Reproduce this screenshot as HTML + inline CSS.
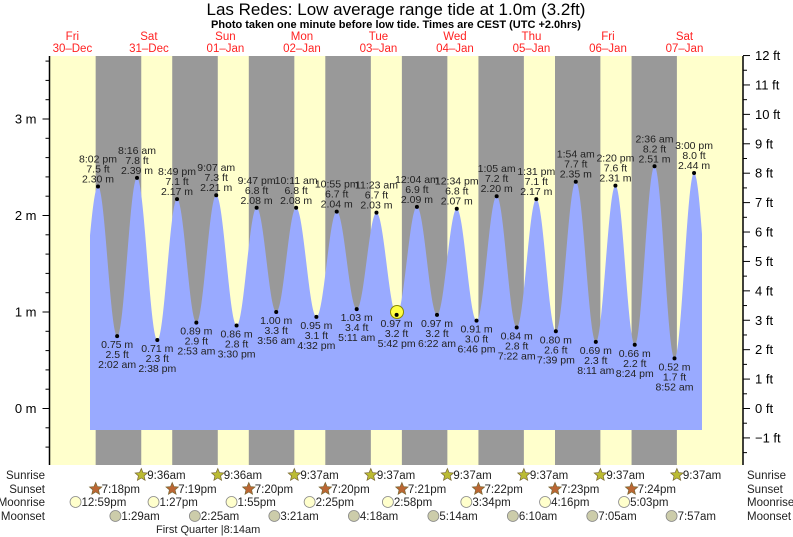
<!DOCTYPE html>
<html><head><meta charset="utf-8"><style>
html,body{margin:0;padding:0;background:#fff;}
svg{display:block;font-family:"Liberation Sans",sans-serif;}
</style></head><body>
<svg id="s" width="793" height="537" viewBox="0 0 793 537" xmlns="http://www.w3.org/2000/svg"></svg>
<script>
const S=document.getElementById('s');let o='';
const X=h=>110.65+3.188*h;
const Y=m=>408.5-96.5*m;
const T=(d,hh,mm,pm)=>{let h=hh%12+(pm?12:0);return d*24+h+mm/60;};
const L=49.5,R=743,TOP=56,BOT=465;
o+=`<rect x="${L}" y="${TOP}" width="${R-L}" height="${BOT-TOP}" fill="#ffffcc"/>`;
const ss=[[-1,7,18],[0,7,19],[1,7,20],[2,7,20],[3,7,21],[4,7,22],[5,7,23],[6,7,24]];
const sr=[[0,9,36],[1,9,36],[2,9,37],[3,9,37],[4,9,37],[5,9,37],[6,9,37],[7,9,37]];
for(let i=0;i<8;i++){const a=X(T(ss[i][0],ss[i][1],ss[i][2],1)),b=X(T(sr[i][0],sr[i][1],sr[i][2],0));
o+=`<rect x="${a}" y="${TOP}" width="${b-a}" height="${BOT-TOP}" fill="#999999"/>`;}
const ex=[[-1,1,40,1,0.8,0],
[-1,8,2,1,2.30,1,'7.5'],[0,2,2,0,0.75,0,'2.5'],[0,8,16,0,2.39,1,'7.8'],[0,2,38,1,0.71,0,'2.3'],
[0,8,49,1,2.17,1,'7.1'],[1,2,53,0,0.89,0,'2.9'],[1,9,7,0,2.21,1,'7.3'],[1,3,30,1,0.86,0,'2.8'],
[1,9,47,1,2.08,1,'6.8'],[2,3,56,0,1.00,0,'3.3'],[2,10,11,0,2.08,1,'6.8'],[2,4,32,1,0.95,0,'3.1'],
[2,10,55,1,2.04,1,'6.7'],[3,5,11,0,1.03,0,'3.4'],[3,11,23,0,2.03,1,'6.7'],[3,5,42,1,0.97,0,'3.2'],
[4,12,4,0,2.09,1,'6.9'],[4,6,22,0,0.97,0,'3.2'],[4,12,34,1,2.07,1,'6.8'],[4,6,46,1,0.91,0,'3.0'],
[5,1,5,0,2.20,1,'7.2'],[5,7,22,0,0.84,0,'2.8'],[5,1,31,1,2.17,1,'7.1'],[5,7,39,1,0.80,0,'2.6'],
[6,1,54,0,2.35,1,'7.7'],[6,8,11,0,0.69,0,'2.3'],[6,2,20,1,2.31,1,'7.6'],[6,8,24,1,0.66,0,'2.2'],
[7,2,36,0,2.51,1,'8.2'],[7,8,52,0,0.52,0,'1.7'],[7,3,0,1,2.44,1,'8.0'],[7,9,15,1,0.6,0]];
const pts=ex.map(e=>[T(e[0],e[1],e[2],e[3]),e[4]]);
const x0=90,x1=702,yb=430;let p=`M${x0},${yb}`;
for(let x=x0;x<=x1;x+=0.5){const h=(x-110.65)/3.188;let v=pts[0][1];
for(let i=0;i<pts.length-1;i++){if(h>=pts[i][0]&&h<=pts[i+1][0]){const f=(h-pts[i][0])/(pts[i+1][0]-pts[i][0]);v=pts[i][1]+(pts[i+1][1]-pts[i][1])*(1-Math.cos(Math.PI*f))/2;break;}}
p+=` L${x},${Y(v).toFixed(2)}`;}
p+=` L${x1},${yb} Z`;
o+=`<path d="${p}" fill="#99aaff"/>`;
o+=`<circle cx="397" cy="312" r="6.5" fill="#ffff44" stroke="#888800" stroke-width="1"/>`;
const fmt=e=>`${e[1]}:${String(e[2]).padStart(2,'0')} ${e[3]?'pm':'am'}`;
ex.forEach(e=>{if(!e[6])return;const x=X(T(e[0],e[1],e[2],e[3])),y=Y(e[4]);
o+=`<circle cx="${x}" cy="${y}" r="2" fill="#000"/>`;
const st=`font-size="10.5" fill="#222" text-anchor="middle"`;
if(e[5]){o+=`<text x="${x}" y="${y-4}" ${st}>${e[4].toFixed(2)} m</text><text x="${x}" y="${y-14}" ${st}>${e[6]} ft</text><text x="${x}" y="${y-24}" ${st}>${fmt(e)}</text>`;}
else{o+=`<text x="${x}" y="${y+12}" ${st}>${e[4].toFixed(2)} m</text><text x="${x}" y="${y+22}" ${st}>${e[6]} ft</text><text x="${x}" y="${y+32}" ${st}>${fmt(e)}</text>`;}
});
o+=`<line x1="${L}" y1="${TOP}" x2="${L}" y2="${BOT}" stroke="#000" stroke-width="1.5"/><line x1="${R}" y1="${TOP}" x2="${R}" y2="${BOT}" stroke="#000" stroke-width="1.5"/>`;
for(let k=-3;k<=18;k++){const m=k*0.2,y=Y(m);if(y<TOP||y>BOT)continue;const maj=k%5==0;
o+=`<line x1="${L-(maj?7:4)}" y1="${y}" x2="${L}" y2="${y}" stroke="#000"/>`;
if(maj)o+=`<text x="${L-13}" y="${y+4.5}" font-size="13" text-anchor="end" fill="#000">${k/5} m</text>`;}
for(let k=-3;k<=24;k++){const f=k*0.5,y=Y(f*0.3048);if(y<TOP-1||y>BOT)continue;const maj=k%2==0;
o+=`<line x1="${R}" y1="${y}" x2="${R+(maj?7:4)}" y2="${y}" stroke="#000"/>`;
if(maj)o+=`<text x="${R+12}" y="${y+4.5}" font-size="13" fill="#000">${f<0?'\u2212'+(-f):f} ft</text>`;}
o+=`<text x="396" y="15" font-size="17" text-anchor="middle" fill="#000">Las Redes: Low average range tide at 1.0m (3.2ft)</text>`;
o+=`<text x="396" y="28" font-size="11" font-weight="bold" text-anchor="middle" fill="#000">Photo taken one minute before low tide. Times are CEST (UTC +2.0hrs)</text>`;
const days=[['Fri','30\u2013Dec'],['Sat','31\u2013Dec'],['Sun','01\u2013Jan'],['Mon','02\u2013Jan'],['Tue','03\u2013Jan'],['Wed','04\u2013Jan'],['Thu','05\u2013Jan'],['Fri','06\u2013Jan'],['Sat','07\u2013Jan']];
days.forEach((d,i)=>{const x=X((i-1)*24+12);o+=`<text x="${x}" y="40" font-size="11.5" fill="#ff2222" text-anchor="middle">${d[0]}</text><text x="${x}" y="52" font-size="11.5" fill="#ff2222" text-anchor="middle">${d[1]}</text>`;});
const rows=[['Sunrise',479],['Sunset',493],['Moonrise',506],['Moonset',520]];
rows.forEach(r=>{o+=`<text x="45" y="${r[1]}" font-size="11.5" text-anchor="end" fill="#222">${r[0]}</text><text x="747" y="${r[1]}" font-size="11.5" fill="#222">${r[0]}</text>`;});
const star=(cx,cy,fill)=>{let d='';for(let i=0;i<10;i++){const a=-Math.PI/2+i*Math.PI/5,r=i%2?3:6.5;d+=(i?'L':'M')+(cx+r*Math.cos(a)).toFixed(1)+','+(cy+r*Math.sin(a)).toFixed(1);}return `<path d="${d}Z" fill="${fill}" stroke="#776633" stroke-width="0.7"/>`;};
const ev=(h,y,txt,kind)=>{const x=X(h);
if(kind=='sr')o+=star(x,y-4,'#bbbb33');else if(kind=='ss')o+=star(x,y-4,'#bb6633');
else o+=`<circle cx="${x}" cy="${y-4}" r="5.5" fill="${kind=='mr'?'#ffffcc':'#ccccaa'}" stroke="#888" stroke-width="0.8"/>`;
o+=`<text x="${x+6}" y="${y}" font-size="11.5" fill="#222">${txt}</text>`;};
sr.forEach(s=>ev(T(s[0],s[1],s[2],0),479,`${s[1]}:${String(s[2]).padStart(2,'0')}am`,'sr'));
ss.forEach(s=>ev(T(s[0],s[1],s[2],1),493,`${s[1]}:${String(s[2]).padStart(2,'0')}pm`,'ss'));
[[-1,12,59],[0,1,27],[1,1,55],[2,2,25],[3,2,58],[4,3,34],[5,4,16],[6,5,3]].forEach(s=>ev(T(s[0],s[1],s[2],1),506,`${s[1]}:${String(s[2]).padStart(2,'0')}pm`,'mr'));
[[0,1,29],[1,2,25],[2,3,21],[3,4,18],[4,5,14],[5,6,10],[6,7,5],[7,7,57]].forEach(s=>ev(T(s[0],s[1],s[2],0),520,`${s[1]}:${String(s[2]).padStart(2,'0')}am`,'ms'));
o+=`<text x="156" y="533" font-size="11" fill="#222">First Quarter |8:14am</text>`;
S.innerHTML=o;
</script>
</body></html>
